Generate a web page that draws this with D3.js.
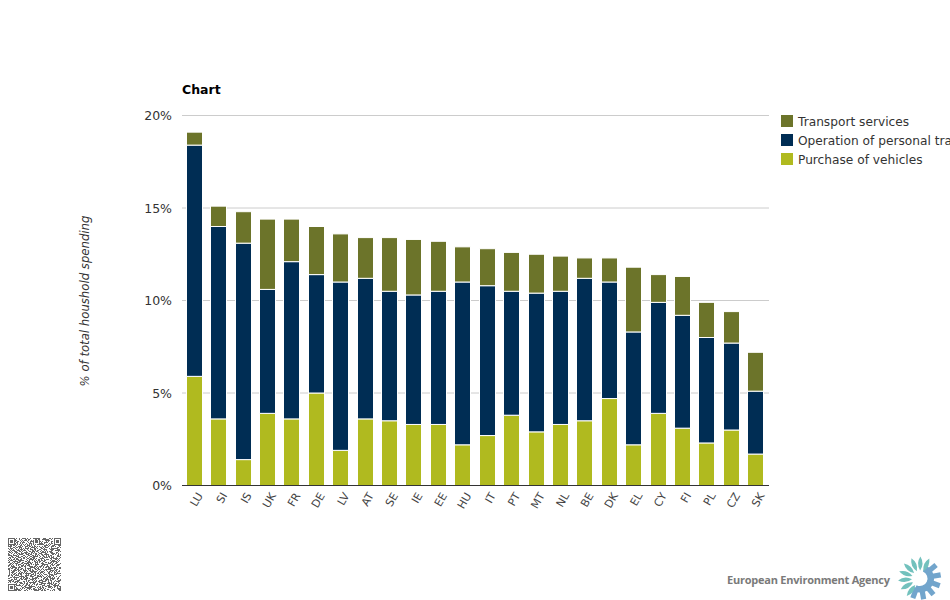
<!DOCTYPE html>
<html>
<head>
<meta charset="utf-8">
<script src="https://cdn.jsdelivr.net/npm/d3@7"></script>
<style>
  html, body { margin: 0; padding: 0; background: #fff; overflow: hidden; }
  svg { display: block; font-family: "DejaVu Sans", sans-serif; }
</style>
</head>
<body>
<svg id="chart" width="950" height="600"></svg>
<script>
const countries = ["LU", "SI", "IS", "UK", "FR", "DE", "LV", "AT", "SE", "IE", "EE", "HU", "IT", "PT", "MT", "NL", "BE", "DK", "EL", "CY", "FI", "PL", "CZ", "SK"];
const purchase = [5.9, 3.6, 1.4, 3.9, 3.6, 5.0, 1.9, 3.6, 3.5, 3.3, 3.3, 2.2, 2.7, 3.8, 2.9, 3.3, 3.5, 4.7, 2.2, 3.9, 3.1, 2.3, 3.0, 1.7];
const operation = [12.5, 10.4, 11.7, 6.7, 8.5, 6.4, 9.1, 7.6, 7.0, 7.0, 7.2, 8.8, 8.1, 6.7, 7.5, 7.2, 7.7, 6.3, 6.1, 6.0, 6.1, 5.7, 4.7, 3.4];
const services = [0.7, 1.1, 1.7, 3.8, 2.3, 2.6, 2.6, 2.2, 2.9, 3.0, 2.7, 1.9, 2.0, 2.1, 2.1, 1.9, 1.1, 1.3, 3.5, 1.5, 2.1, 1.9, 1.7, 2.1];
const yTicks = [0, 5, 10, 15, 20];

const seriesNames = ["Purchase of vehicles", "Operation of personal transport equipment", "Transport services"];
const seriesColors = ["#b0ba1f", "#002d54", "#6c742a"];
// legend is listed top-down, opposite to the stacking order
const legendOrder = [2, 1, 0];

// decorative code square, one hex number per row (53 bits used)
const qrRows = [
  "5a93d27f1c6e4a", "e1146c1b3f9052", "b38ae95d07c6d8", "3d6513dda29e74", "92cb8a5d4f1763", "c74a2741e85b9c", "d5555557f2a6c0",
  "b68c9d200f4e38", "f13a76b52c9d17", "26dc49e8d7106b", "b9157a34685fc2", "54ae93b19e3c70", "2e75c8d64a19f6", "d39a26ecb5702e",
  "69c4f1a27d38c4", "92b76d59c61ea3", "c45e3b1a6f8d29", "f7a18cd532b06e", "18e6537c9ad471", "6d39a4e12f5c88", "a2c59b68f037d4",
  "56ec27d34b91a6", "b93f14ab6c2e57", "47d86c35981fa0", "ca731e9d26b4c3", "35c6fb1470e98d", "68b92d5e3f1a72", "d4a75c18692ce4",
  "9e16c7b5d3a081", "2fb843ea96d75c", "d9a65e3620fb18", "c36d4a9b57e2c6", "57b1e6c48a3d90", "4e28d3f9716ab5", "5c96a1b2e8d347",
  "4b3d7e5690c2fa", "56ac29d14e7b83", "d9e47b36a15c0e", "8a1f63c7d2e496", "37e5b09c4d6a21", "c28d74fa1b3e65", "1b96e3d057ac48",
  "f4702ca9e6b13d", "6de1a85b3c92f0", "a35c97f1e0d426", "0c8eb2647df593", "e79134adc85b26", "52fa6d0839c7e1", "9b04c7e2a6f358",
  "d6837f15b0ea4c", "38ca9e62d4107b", "c1f4257ba9863e", "75b8d03e6c2a19"
];

const margin = { top: 115.5, left: 181.95, right: 181.97, bottom: 114.5 };
const width = 950, height = 600;

const svg = d3.select("#chart");

const x = d3.scaleBand()
  .domain(countries)
  .range([margin.left, width - margin.right]);

const y = d3.scaleLinear()
  .domain([0, 20])
  .range([height - margin.bottom, margin.top]);

// gridlines
svg.append("g")
  .selectAll("line")
  .data(yTicks.filter(d => d > 0))
  .join("line")
  .attr("x1", 182)
  .attr("x2", 769)
  .attr("y1", d => y(d))
  .attr("y2", d => y(d))
  .attr("stroke", "#cccccc");

// stacked bars
const rows = countries.map((c, i) => ({ country: c, s0: purchase[i], s1: operation[i], s2: services[i] }));
const stacked = d3.stack().keys(["s0", "s1", "s2"])(rows);
const barWidth = 15;

svg.append("g")
  .selectAll("g")
  .data(stacked)
  .join("g")
  .attr("fill", (d, i) => seriesColors[i])
  .selectAll("rect")
  .data(d => d)
  .join("rect")
  .attr("x", d => Math.round(x(d.data.country) + (x.bandwidth() - barWidth) / 2) - 0.5)
  .attr("width", barWidth + 1)
  .attr("y", d => y(d[1]))
  .attr("height", d => y(d[0]) - y(d[1]))
  .attr("stroke", "#fff")
  .attr("stroke-width", 1);

// axes
const yAxis = d3.axisLeft(y).tickValues(yTicks).tickFormat(d => d + "%").tickSize(0).tickPadding(10);
const yG = svg.append("g").attr("transform", "translate(182,0)").call(yAxis);
yG.select(".domain").remove();
yG.selectAll("text")
  .attr("font-family", "'DejaVu Sans', sans-serif")
  .attr("font-size", 12.5)
  .attr("fill", "#333");

const xAxis = d3.axisBottom(x).tickSize(0).tickPadding(0);
const xG = svg.append("g").attr("transform", `translate(0,${height - margin.bottom})`).call(xAxis);
xG.select(".domain").remove();
xG.append("line")
  .attr("x1", 182)
  .attr("x2", 769)
  .attr("stroke", "#333");
xG.selectAll("text")
  .attr("font-family", "'DejaVu Sans', sans-serif")
  .attr("font-size", 11)
  .attr("fill", "#444")
  .attr("text-anchor", "end")
  .attr("dy", 0)
  .attr("transform", "translate(9,10) rotate(-60)");

// titles
svg.append("text")
  .attr("x", 182)
  .attr("y", 94)
  .attr("font-size", 12.5)
  .attr("font-weight", "bold")
  .attr("fill", "#000")
  .text("Chart");

svg.append("text")
  .attr("transform", "translate(89,301) rotate(-90)")
  .attr("text-anchor", "middle")
  .attr("font-size", 11.7)
  .attr("font-style", "italic")
  .attr("fill", "#333")
  .text("% of total houshold spending");

// legend
const legend = svg.append("g")
  .selectAll("g")
  .data(legendOrder)
  .join("g")
  .attr("transform", (d, i) => `translate(781,${115 + i * 19})`);

legend.append("rect")
  .attr("width", 12)
  .attr("height", 12)
  .attr("fill", d => seriesColors[d]);

legend.append("text")
  .attr("x", 17)
  .attr("y", 10.5)
  .attr("font-size", 12.2)
  .attr("fill", "#333")
  .text(d => seriesNames[d]);

// QR-like square, bottom left
const qr = svg.append("g").attr("transform", "translate(8,538)").attr("shape-rendering", "crispEdges");
qrRows.forEach((row, r) => {
  const bits = row.split("").map(h => parseInt(h, 16).toString(2).padStart(4, "0")).join("");
  bits.slice(0, 53).split("").forEach((b, c) => {
    if (b === "1") {
      qr.append("rect")
        .attr("x", c)
        .attr("y", r)
        .attr("width", 1)
        .attr("height", 1)
        .attr("fill", "#666");
    }
  });
});

// the three corner squares of the code
[[0, 0], [46, 0], [0, 46]].forEach(([cx, cy]) => {
  const corner = qr.append("g").attr("transform", `translate(${cx},${cy})`);
  corner.append("rect").attr("x", -1).attr("y", -1).attr("width", 8).attr("height", 8).attr("fill", "#fff");
  corner.append("rect").attr("width", 7).attr("height", 7).attr("fill", "#666");
  corner.append("rect").attr("x", 1).attr("y", 1).attr("width", 5).attr("height", 5).attr("fill", "#fff");
  corner.append("rect").attr("x", 2).attr("y", 2).attr("width", 3).attr("height", 3).attr("fill", "#666");
});

// agency name and logo
svg.append("text")
  .attr("x", 890)
  .attr("y", 584)
  .attr("text-anchor", "end")
  .attr("font-family", "'Open Sans', sans-serif")
  .attr("font-size", 11)
  .attr("font-weight", "bold")
  .attr("fill", "#7a7a7a")
  .attr("textLength", 163)
  .text("European Environment Agency");

const logo = svg.append("g").attr("transform", "translate(920,578.5)");

const gearAngles = d3.range(50, 215, 30);
logo.selectAll("rect.tooth")
  .data(gearAngles)
  .join("rect")
  .attr("class", "tooth")
  .attr("x", -2.6)
  .attr("y", -21)
  .attr("width", 5.2)
  .attr("height", 11)
  .attr("transform", d => `rotate(${d})`)
  .attr("fill", "#72a5cc");

logo.append("path")
  .attr("d", d3.arc().innerRadius(7.5).outerRadius(14).startAngle(0.4).endAngle(Math.PI * 1.15)())
  .attr("fill", "#72a5cc");

const petalAngles = d3.range(25, -150, -24);
logo.selectAll("path.petal")
  .data(petalAngles)
  .join("path")
  .attr("class", "petal")
  .attr("d", "M0,-8 Q4.5,-15 0,-22 Q-4.5,-15 0,-8Z")
  .attr("transform", d => `rotate(${d})`)
  .attr("fill", "#72c1bd");
</script>
</body>
</html>
